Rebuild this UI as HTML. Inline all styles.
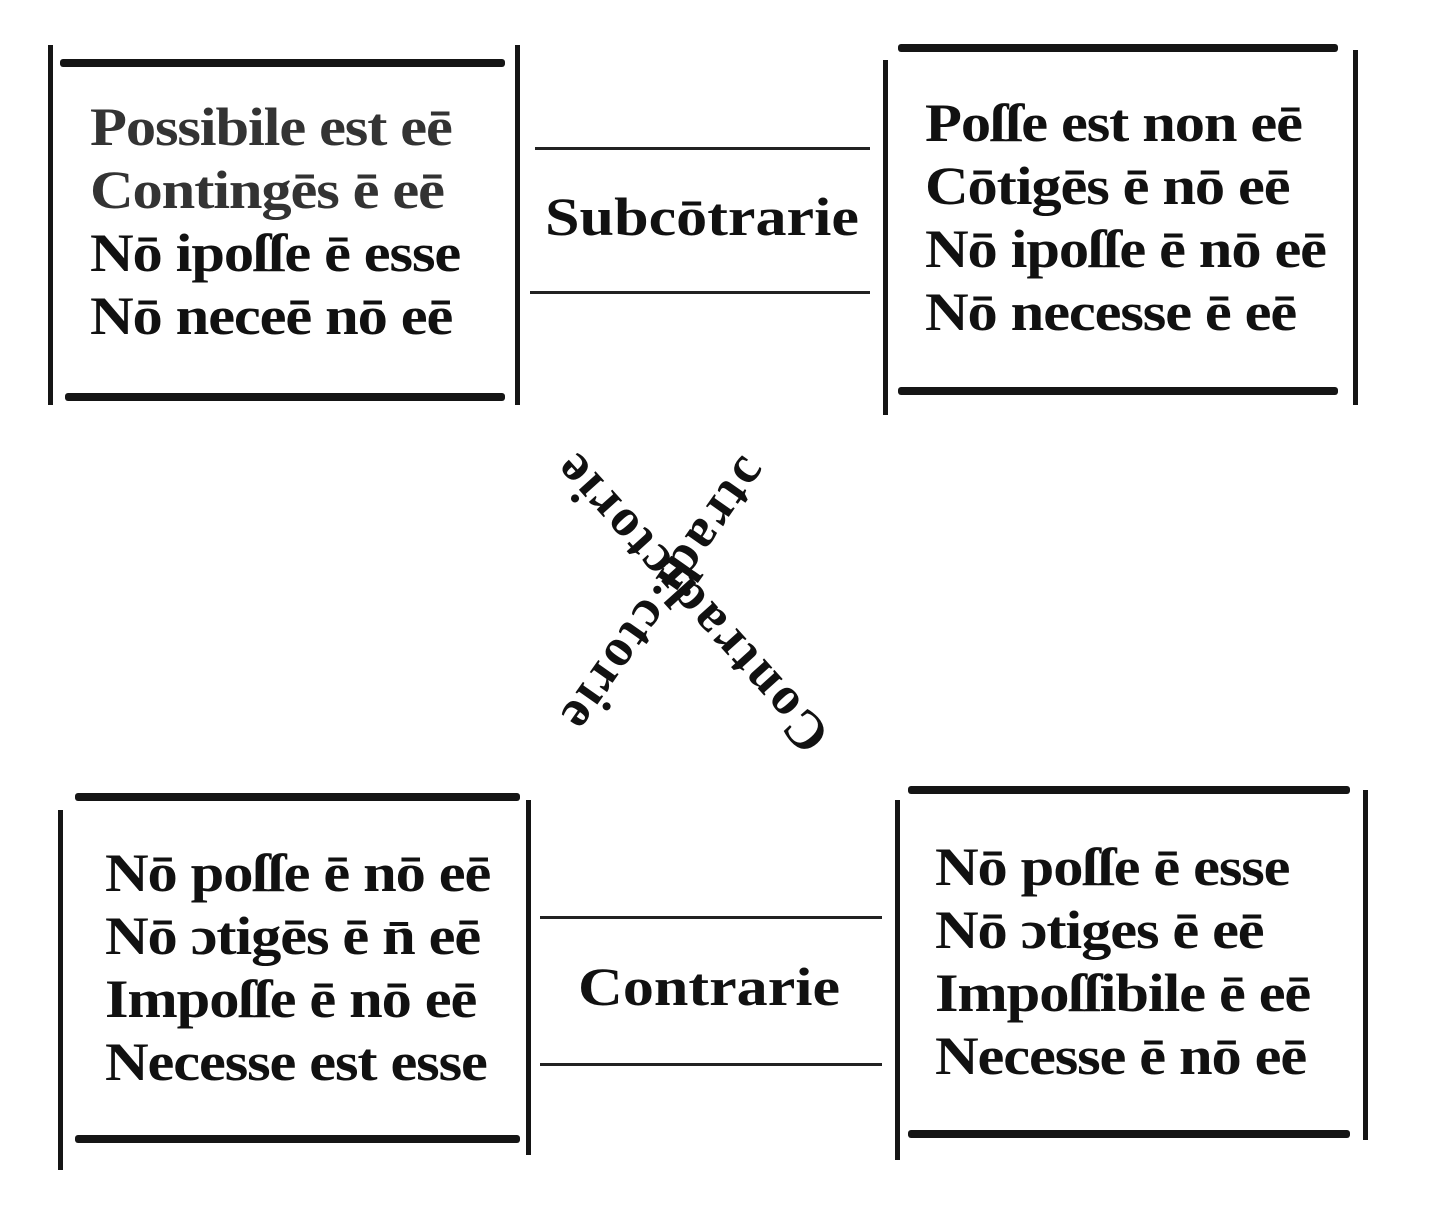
<!DOCTYPE html>
<html><head><meta charset="utf-8"><style>
html,body{margin:0;padding:0;background:#fff;}
body{width:1430px;height:1216px;position:relative;overflow:hidden;font-family:"Liberation Serif",serif;color:#111;}
.v{position:absolute;width:5px;background:#151515;}
.h{position:absolute;height:8px;background:#151515;border-radius:3px;}
.t{position:absolute;height:3px;background:#222;}
.txt{position:absolute;font-weight:bold;font-size:54px;line-height:63px;white-space:nowrap;letter-spacing:-1px;transform:scaleX(1.12);transform-origin:left top;}
.lab{position:absolute;font-weight:bold;font-size:54px;white-space:nowrap;transform-origin:center center;}
</style></head><body>
<div class="v" style="left:48px;top:45px;height:360px"></div>
<div class="v" style="left:515px;top:45px;height:360px"></div>
<div class="h" style="left:60px;top:59px;width:445px"></div>
<div class="h" style="left:65px;top:393px;width:440px"></div>
<div class="txt" style="left:90px;top:96px;color:#333">Possibile est eē<br>Contingēs ē eē<br><span style="color:#111">Nō ipoſſe ē esse<br>Nō neceē nō eē</span></div>
<div class="v" style="left:883px;top:60px;height:355px"></div>
<div class="v" style="left:1353px;top:50px;height:355px"></div>
<div class="h" style="left:898px;top:44px;width:440px"></div>
<div class="h" style="left:898px;top:387px;width:440px"></div>
<div class="txt" style="left:925px;top:92px">Poſſe est non eē<br>Cōtigēs ē nō eē<br>Nō ipoſſe ē nō eē<br>Nō necesse ē eē</div>
<div class="t" style="left:535px;top:147px;width:335px"></div>
<div class="t" style="left:530px;top:291px;width:340px"></div>
<div class="lab" style="left:545px;top:186px;transform:scaleX(1.15);transform-origin:left top">Subcōtrarie</div>
<div class="v" style="left:58px;top:810px;height:360px"></div>
<div class="v" style="left:526px;top:800px;height:355px"></div>
<div class="h" style="left:75px;top:793px;width:445px"></div>
<div class="h" style="left:75px;top:1135px;width:445px"></div>
<div class="txt" style="left:105px;top:842px">Nō poſſe ē nō eē<br>Nō ɔtigēs ē n̄ eē<br>Impoſſe ē nō eē<br>Necesse est esse</div>
<div class="v" style="left:895px;top:800px;height:360px"></div>
<div class="v" style="left:1363px;top:790px;height:350px"></div>
<div class="h" style="left:908px;top:786px;width:442px"></div>
<div class="h" style="left:908px;top:1130px;width:442px"></div>
<div class="txt" style="left:935px;top:836px">Nō poſſe ē esse<br>Nō ɔtiges ē eē<br>Impoſſibile ē eē<br>Necesse ē nō eē</div>
<div class="t" style="left:540px;top:916px;width:342px"></div>
<div class="t" style="left:540px;top:1063px;width:342px"></div>
<div class="lab" style="left:578px;top:956px;transform:scaleX(1.15);transform-origin:left top">Contrarie</div>
<div class="lab" style="left:480px;top:572px;width:420px;text-align:center;font-size:54px;letter-spacing:3px;transform:rotate(-132deg)">Contradictorie</div>
<div class="lab" style="left:455px;top:565px;width:420px;text-align:center;font-size:54px;letter-spacing:3px;transform:rotate(125deg)">ɔtradi ctorie</div>
</body></html>
